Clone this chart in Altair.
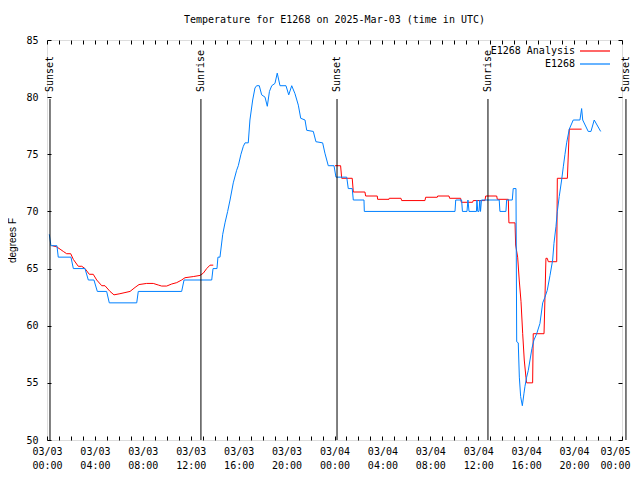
import altair as alt
import pandas as pd

# ---------------- data (hours since 2025-03-03 00:00 UTC, degrees F) ----------------
analysis1_hours = [0.44, 0.81, 1.09, 1.36, 1.64, 1.98, 2.2, 2.61, 2.9, 3.17, 3.53, 3.86, 4.15,
                   4.57, 4.84, 5.26, 5.59, 6.09, 6.51, 6.93, 7.35, 7.68, 8.32, 8.87, 9.29, 9.57,
                   9.99, 10.41, 10.83, 11.24, 11.52, 12.21, 12.77, 13.05, 13.33, 13.61, 13.88]
analysis1_temps = [67.0, 66.9, 66.7, 66.5, 66.3, 66.3, 65.8, 65.2, 65.2, 65.0, 64.5, 64.5, 64.0,
                   63.5, 63.5, 63.0, 62.7, 62.8, 62.9, 63.0, 63.35, 63.6, 63.7, 63.7, 63.56, 63.47,
                   63.47, 63.65, 63.77, 64.0, 64.2, 64.3, 64.4, 64.6, 65.0, 65.3, 65.3]

analysis2_hours = [24.04, 24.51, 24.6, 25.48, 25.57, 26.54, 26.6, 27.57, 27.6, 28.55, 28.57, 29.55,
                   29.61, 31.55, 31.61, 32.58, 32.61, 33.56, 33.61, 34.53, 34.58, 35.53, 35.58,
                   36.56, 36.62, 37.54, 37.59, 38.51, 38.56, 39.07, 39.12, 39.29, 39.42, 39.57,
                   39.71, 39.84, 39.98, 40.04, 40.54, 40.59, 41.49, 41.57, 41.65, 41.76, 41.85,
                   42.55, 42.6, 43.44, 43.6, 44.63]
analysis2_temps = [74.0, 74.0, 72.9, 72.9, 71.7, 71.7, 71.35, 71.35, 71.06, 71.06, 71.15, 71.15,
                   70.95, 70.95, 71.24, 71.24, 71.35, 71.35, 71.15, 71.15, 70.8, 70.8, 70.95,
                   70.95, 71.35, 71.35, 71.06, 71.06, 69.0, 69.0, 67.06, 66.0, 64.0, 62.1,
                   59.3, 57.0, 55.5, 55.0, 55.0, 59.3, 59.3, 62.5, 65.9, 65.9, 65.6,
                   65.6, 72.9, 72.9, 77.2, 77.2]

obs_hours = [0.19, 0.33, 0.83, 0.94, 2.0, 2.2, 3.17, 3.45, 3.92, 4.2, 4.98, 5.2, 7.49, 7.62,
             11.24, 11.44, 13.75, 13.86, 14.19, 14.27, 14.44, 14.67, 14.86, 15.08, 15.28, 15.55,
             15.83, 15.97, 16.19, 16.39, 16.53, 16.80, 16.94, 17.17, 17.36, 17.50, 17.72, 17.92,
             18.2, 18.39, 18.57, 18.76, 19.03, 19.22, 19.45, 19.95, 20.18, 20.43, 20.7, 20.98,
             21.18, 21.54, 21.68, 22.23, 22.45, 23.01, 23.2, 23.48, 23.96, 24.12, 25.02, 25.15,
             25.48, 25.57, 26.46, 26.49, 34.06, 34.12, 34.61, 34.68, 35.06, 35.14, 35.23, 35.85,
             35.89, 35.96, 36.06, 36.13, 36.19, 36.27, 37.75, 37.81, 38.31, 38.37, 38.84, 38.92,
             39.15, 39.21, 39.34, 39.43, 39.54, 39.68, 39.82, 39.9, 40.04, 40.18, 40.32, 40.48,
             40.65, 40.88, 41.15, 41.38, 41.57, 41.76, 41.99, 42.21, 42.32, 42.49, 42.6, 42.76,
             42.96, 43.1, 43.24, 43.38, 43.6, 43.93, 44.49, 44.63, 44.72, 45.18, 45.41, 45.68,
             46.22]
obs_temps = [68, 67, 67, 66, 66, 65, 65, 64, 64, 63, 63, 62, 62, 63,
             63, 64, 64, 65, 65, 66, 66, 68, 69, 70, 71, 72.5,
             73.6, 74, 75, 75.7, 76, 76, 78, 79.75, 80.8, 81, 81, 80.2,
             80, 79.2, 80.5, 81, 81.2, 82.1, 81, 81, 80.2, 81, 80.3, 79.3,
             78.15, 78, 77.1, 77, 76.1, 76, 75.1, 74, 74, 73, 73, 72,
             72, 71, 71, 70, 70, 71, 71, 70, 70, 71, 70, 70,
             71, 70, 70, 71, 70, 71, 71, 70, 70, 71, 71, 72,
             72, 58.6, 58.5, 55.5, 53.8, 53.0, 54.1, 54.7, 55.5, 56.1, 57, 58,
             58.75, 59.3, 60.2, 62, 62.5, 63.1, 64.4, 65.75, 67.2, 68.7, 70, 71.3,
             72.75, 73.9, 75, 76, 77.2, 78, 78, 79, 78, 77, 77, 78,
             77]

sun_hours = [0.25, 12.85, 24.21, 36.81, 48.33]
sun_labels = ["Sunset", "Sunrise", "Sunset", "Sunrise", "Sunset"]

series_names = ["E1268 Analysis", "E1268"]
series_colors = ["#ff0000", "#0080ff"]

# ---------------- tables ----------------
rows = []
for h, t in zip(analysis1_hours, analysis1_temps):
    rows.append({"hour": h, "temp": t, "series": series_names[0], "seg": "a1"})
for h, t in zip(analysis2_hours, analysis2_temps):
    rows.append({"hour": h, "temp": t, "series": series_names[0], "seg": "a2"})
for h, t in zip(obs_hours, obs_temps):
    rows.append({"hour": h, "temp": t, "series": series_names[1], "seg": "o"})
df = pd.DataFrame(rows)
df["idx"] = range(len(df))

sun_df = pd.DataFrame({"hour": sun_hours, "label": sun_labels})

MONO = "DejaVu Sans Mono"
SANS = "Liberation Sans"

x_scale = alt.Scale(domain=[0, 48], nice=False, zero=False)
y_scale = alt.Scale(domain=[50, 85], nice=False, zero=False)

label_expr = ("datum.value % 4 == 0 ? ['03/0' + (3 + floor(datum.value / 24)), "
              "((datum.value % 24) < 10 ? '0' : '') + (datum.value % 24) + ':00'] : ''")

x_bottom = alt.Axis(values=list(range(0, 49)), labelExpr=label_expr, title=None, grid=False,
                    domain=False, ticks=True, tickSize=4, offset=-4, tickColor="black",
                    labelColor="black", labelFont=MONO, labelFontSize=10, labelPadding=6,
                    labelAngle=0, labelAlign="center", labelBaseline="top",
                    labelOffset={"expr": "datum.value == 48 ? -7 : 0"},
                    labelFlush=False, labelOverlap=False, labelLineHeight=14, labelBound=False)
y_left = alt.Axis(values=list(range(50, 86, 5)), title="degrees F", grid=False, domain=False,
                  tickSize=4, offset=-4, tickColor="black", labelColor="black",
                  labelFont=MONO, labelFontSize=10, labelPadding=9, labelFlush=False,
                  titleFont=SANS, titleFontSize=10, titleFontWeight="normal",
                  titleColor="black", titlePadding=8)
x_top = alt.Axis(orient="top", values=list(range(0, 49)), labels=False, title=None, grid=False,
                 domain=False, tickSize=4, offset=-4, tickColor="black")
y_right = alt.Axis(orient="right", values=list(range(50, 86, 5)), labels=False, title=None,
                   grid=False, domain=False, tickSize=4, offset=-4, tickColor="black")

lines = alt.Chart(df).mark_line(strokeWidth=1, clip=True).encode(
    x=alt.X("hour:Q", scale=x_scale, axis=x_bottom),
    y=alt.Y("temp:Q", scale=y_scale, axis=y_left),
    color=alt.Color("series:N", scale=alt.Scale(domain=series_names, range=series_colors),
                    legend=alt.Legend(title=None, orient="none", legendX=542, legendY=5,
                                      symbolType="M-3,0H3", symbolSize=100,
                                      symbolStrokeWidth=1.2,
                                      labelAlign="right", labelOffset={"expr": "-26"},
                                      labelFont=MONO, labelFontSize=10, labelColor="black",
                                      rowPadding=2, padding=0)),
    detail="seg:N",
    order="idx:Q",
)

rules = alt.Chart(sun_df).mark_rule(color="black", strokeWidth=1).encode(
    x=alt.X("hour:Q", scale=x_scale, axis=x_top),
    y=alt.value(59),
    y2=alt.value(400),
)

labels = alt.Chart(sun_df).mark_text(angle=270, align="left", baseline="middle", font=MONO,
                                     fontSize=10, color="black").encode(
    x=alt.X("hour:Q", scale=x_scale, axis=None),
    y=alt.value(52),
    text="label:N",
)

ticks_right = alt.Chart(sun_df).mark_point(opacity=0).encode(
    x=alt.X("hour:Q", scale=x_scale, axis=None),
    y=alt.Y("y:Q", scale=y_scale, axis=y_right),
).transform_calculate(y="60")

chart = alt.layer(lines, rules, labels, ticks_right).resolve_axis(
    x="independent", y="independent"
).properties(
    width=575, height=400,
    title=alt.TitleParams("Temperature for E1268 on 2025-Mar-03 (time in UTC)", font=MONO,
                          fontSize=10, fontWeight="normal", color="black", offset=10,
                          anchor="middle"),
    autosize=alt.AutoSizeParams(type="none"),
    padding={"left": 39, "top": 32, "right": 10, "bottom": 32},
).configure_view(stroke="black", strokeWidth=1).configure(background="white")

chart.save("out.html", embed_options={"renderer": "svg", "actions": False})
